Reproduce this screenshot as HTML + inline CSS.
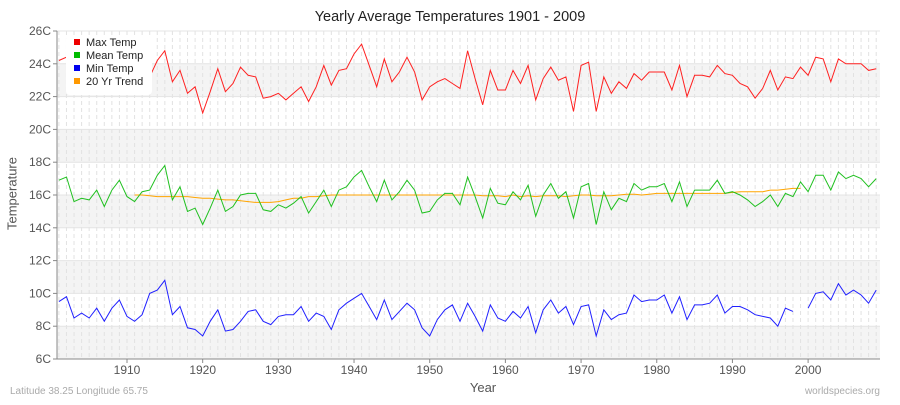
<!DOCTYPE html>
<html><head><meta charset="utf-8"><style>
body{margin:0;background:#fff;font-family:"Liberation Sans",sans-serif}
svg text{font-family:"Liberation Sans",sans-serif}
</style></head><body>
<svg id="c" width="900" height="400" xmlns="http://www.w3.org/2000/svg"></svg>
<script>
const years=[];for(let y=1901;y<=2009;y++)years.push(y);
const maxTemp=[24.2,24.4,23.5,24.0,23.2,23.8,23.0,23.5,24.3,23.1,22.8,23.0,23.2,24.2,24.8,22.9,23.6,22.2,22.6,21.0,22.3,23.7,22.3,22.8,23.8,23.3,23.2,21.9,22.0,22.2,21.8,22.2,22.6,21.7,22.6,23.9,22.7,23.6,23.7,24.6,25.2,23.9,22.6,24.3,22.9,23.5,24.4,23.5,21.8,22.6,22.9,23.1,22.8,22.5,24.8,23.1,21.5,23.6,22.4,22.4,23.6,22.8,23.9,21.8,23.1,23.8,23.0,23.2,21.1,23.9,24.1,21.1,23.2,22.2,22.9,22.5,23.4,23.0,23.5,23.5,23.5,22.4,23.9,22.0,23.3,23.3,23.2,23.9,23.4,23.3,22.8,22.6,21.9,22.5,23.6,22.4,23.2,23.1,23.8,23.3,24.4,24.3,22.9,24.3,24.0,24.0,24.0,23.6,23.7];
const meanTemp=[16.9,17.1,15.6,15.8,15.7,16.3,15.3,16.3,16.9,15.9,15.6,16.2,16.3,17.2,17.8,15.7,16.5,15.0,15.2,14.2,15.2,16.3,15.0,15.3,16.0,16.1,16.1,15.1,15.0,15.4,15.2,15.5,15.9,14.9,15.6,16.3,15.3,16.3,16.5,17.1,17.5,16.5,15.6,16.9,15.7,16.2,16.9,16.3,14.9,15.0,15.7,16.1,16.1,15.4,17.1,15.9,14.6,16.4,15.5,15.4,16.2,15.7,16.6,14.7,16.0,16.7,15.8,16.2,14.6,16.5,16.7,14.2,16.2,15.1,15.8,15.6,16.7,16.3,16.5,16.5,16.7,15.6,16.8,15.3,16.3,16.3,16.3,16.9,16.1,16.2,16.0,15.7,15.3,15.6,16.0,15.3,16.1,15.9,16.8,16.2,17.2,17.2,16.3,17.4,17.0,17.2,17.0,16.5,17.0];
const minTemp=[9.5,9.8,8.5,8.8,8.5,9.1,8.3,9.1,9.6,8.6,8.3,8.7,10.0,10.2,10.8,8.7,9.2,7.9,7.8,7.4,8.3,9.0,7.7,7.8,8.3,8.9,9.0,8.3,8.1,8.6,8.7,8.7,9.2,8.3,8.8,8.6,7.8,9.0,9.4,9.7,10.0,9.2,8.4,9.6,8.4,8.9,9.4,9.0,7.9,7.4,8.4,9.0,9.3,8.3,9.4,8.6,7.7,9.3,8.5,8.3,8.9,8.5,9.2,7.6,9.0,9.6,8.8,9.2,8.1,9.2,9.3,7.4,9.0,8.4,8.7,8.8,9.9,9.5,9.6,9.6,9.9,8.8,9.8,8.4,9.3,9.3,9.4,9.9,8.8,9.2,9.2,9.0,8.7,8.6,8.5,8.0,9.1,8.9,null,9.1,10.0,10.1,9.6,10.6,9.9,10.2,9.9,9.4,10.2];
const trendYears=[];for(let y=1911;y<=1999;y++)trendYears.push(y);
const trend=[16.0,16.0,15.95,15.9,15.9,15.9,15.9,15.9,15.85,15.8,15.8,15.75,15.7,15.7,15.65,15.6,15.55,15.55,15.55,15.6,15.7,15.8,15.8,15.9,15.9,15.95,16.0,16.0,16.0,16.0,16.0,16.0,16.0,16.0,16.0,16.0,16.0,16.0,16.0,16.0,16.0,16.0,16.0,16.0,16.0,16.0,15.95,15.95,15.95,15.9,16.0,15.9,15.95,15.9,15.95,15.95,15.95,15.9,15.95,16.0,16.0,15.95,15.95,15.95,16.0,16.05,16.05,16.0,16.05,16.1,16.1,16.1,16.1,16.1,16.1,16.1,16.1,16.1,16.1,16.15,16.2,16.2,16.2,16.2,16.3,16.3,16.35,16.4,16.4];
const yTicks=[6,8,10,12,14,16,18,20,22,24,26];
const xTicks=[1910,1920,1930,1940,1950,1960,1970,1980,1990,2000];
const L=57,R=880,T=31,B=359;
const xs=y=>L+(y-1900.75)*(R-L)/(2009.5-1900.75);
const ys=v=>B-(v-6)*(B-T)/20;
const svg=document.getElementById('c');const NS='http://www.w3.org/2000/svg';
function mk(t,a,p){const e=document.createElementNS(NS,t);for(const k in a)e.setAttribute(k,a[k]);(p||svg).appendChild(e);return e;}
const grid=mk('g',{});


for(let v=6;v<26;v+=2){if([6,10,14,18,22].includes(v))mk('rect',{x:L,y:ys(v+2),width:R-L,height:ys(v)-ys(v+2),fill:'#f4f4f4'},grid);}
years.forEach(y=>mk('line',{x1:xs(y),x2:xs(y),y1:T,y2:B,stroke:'#e2e2e2','stroke-dasharray':'4,3'},grid));
for(let v=8;v<=26;v+=2)mk('line',{x1:L,x2:R,y1:ys(v),y2:ys(v),stroke:'#e4e4e4'},grid);
mk('line',{x1:L,x2:L,y1:T,y2:B,stroke:'#888'});
mk('line',{x1:L,x2:R,y1:B,y2:B,stroke:'#888'});
yTicks.forEach(v=>{mk('line',{x1:L-4,x2:L,y1:ys(v),y2:ys(v),stroke:'#888'});const t=mk('text',{x:L-6,y:ys(v)+4,'text-anchor':'end','font-size':12,fill:'#555'});t.textContent=v+'C';

});
xTicks.forEach(v=>{mk('line',{x1:xs(v),x2:xs(v),y1:B,y2:B+4,stroke:'#888'});const t=mk('text',{x:xs(v),y:B+15,'text-anchor':'middle','font-size':12,fill:'#555'});t.textContent=v;

});
function line(xv,vals,color,name){let d='',pen=false;vals.forEach((v,i)=>{if(v==null){pen=false;return;}d+=(pen?'L':'M')+xs(xv[i]).toFixed(1)+','+ys(v).toFixed(1);pen=true;});const p=mk('path',{d:d,fill:'none',stroke:color,'stroke-width':1});

}
line(trendYears,trend,'#ffa500','trend-line');
line(years,maxTemp,'#ff2020','max-temp-line');
line(years,meanTemp,'#20c020','mean-temp-line');
line(years,minTemp,'#2020ff','min-temp-line');
</script>
<div style="position:absolute;left:0;top:9px;width:900px;text-align:center;font-size:14.5px;color:#222">Yearly Average Temperatures 1901 - 2009</div>
<div style="position:absolute;left:66px;top:35px;width:86px;height:58px;background:#fff;border-radius:4px;font-size:11px;color:#222;line-height:13px;padding-top:2px">
<div><span style="display:inline-block;width:6px;height:6px;background:#e00;margin:0 6px 1px 8px"></span>Max Temp</div>
<div><span style="display:inline-block;width:6px;height:6px;background:#0b0;margin:0 6px 1px 8px"></span>Mean Temp</div>
<div><span style="display:inline-block;width:6px;height:6px;background:#00e;margin:0 6px 1px 8px"></span>Min Temp</div>
<div><span style="display:inline-block;width:6px;height:6px;background:#f90;margin:0 6px 1px 8px"></span>20 Yr Trend</div>
</div>
<div style="position:absolute;left:-28px;top:186px;width:80px;text-align:center;transform:rotate(-90deg);font-size:13px;color:#555">Temperature</div>
<div style="position:absolute;left:0;top:380px;width:966px;text-align:center;font-size:13px;color:#555">Year</div>
<div style="position:absolute;left:10px;top:386px;font-size:10px;color:#aaa">Latitude 38.25 Longitude 65.75</div>
<div style="position:absolute;right:20px;top:386px;font-size:10px;color:#aaa">worldspecies.org</div>
</body></html>
